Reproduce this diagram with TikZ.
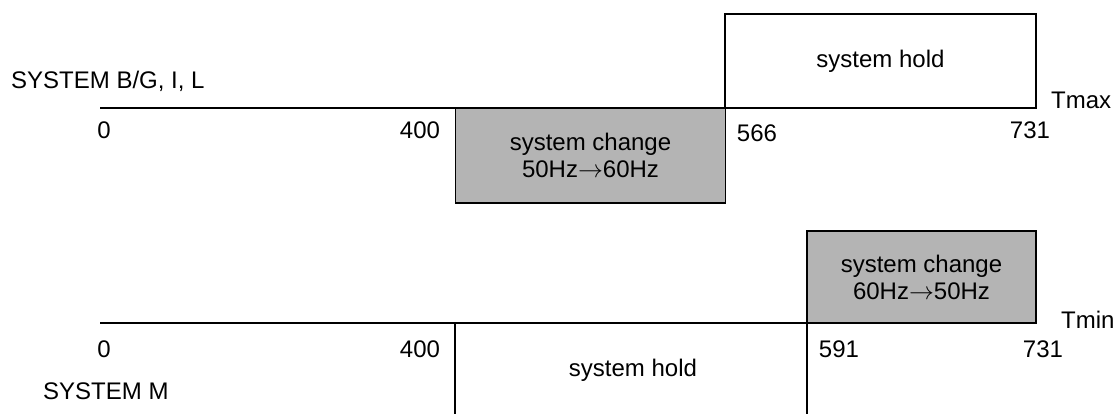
\documentclass[tikz,border=0pt]{standalone}
\usepackage{fontspec}
\setmainfont{Liberation Sans}
\usetikzlibrary{positioning}
\definecolor{chgray}{HTML}{B4B4B4}

\begin{document}
\begin{tikzpicture}[
    x=1pt, y=-1pt,
    every node/.style={font=\fontsize{24}{27}\selectfont, inner sep=0pt},
    axis/.style={line width=2.2pt},
    holdbox/.style={rectangle, draw=black, line width=1.8pt, fill=white, align=center},
    changebox/.style={rectangle, draw=black, line width=1.8pt, fill=chgray, align=center},
    edge/.style={line width=1.4pt},
    tick/.style={anchor=center}
]
\useasboundingbox (0,0) rectangle (1117,414);

% Upper chart: system B/G, I, L
\node[anchor=west] (sysbg) at (11,81) {SYSTEM B/G, I, L};
\coordinate (bgstart) at (100,108);
\coordinate (bgend) at (1036,108);
\node[holdbox, minimum width=311pt, minimum height=94pt] (bghold) at (880.5,61) {system hold};
\node[changebox, minimum width=270pt, minimum height=95pt] (bgchange) at (590.5,155.5) {system change\\50Hz$\rightarrow$60Hz};
\draw[axis] (bgstart) -- (bgend);
\node[anchor=west] (tmax) at (1051,100) {Tmax};

% Upper ticks
\node[tick] (bgzero) at (104,130) {0};
\node[tick] (bgfour) at (420,130) {400};
\node[tick] (bgfivesix) at (757,133) {566};
\node[tick] (bgseven) at (1030,130) {731};

% Lower chart: system M
\coordinate (mstart) at (100,323);
\coordinate (mend) at (1036,323);
\node[changebox, minimum width=229pt, minimum height=92pt] (mchange) at (921.5,277) {system change\\60Hz$\rightarrow$50Hz};
\draw[axis] (mstart) -- (mend);
\node[anchor=west] (tmin) at (1061,320) {Tmin};

% Lower hold window
\coordinate (mholdl) at (455,323);
\coordinate (mholdr) at (807,323);
\coordinate (mholdlb) at (455,414);
\coordinate (mholdrb) at (807,414);
\draw[edge] (mholdl) -- (mholdlb);
\draw[edge] (mholdr) -- (mholdrb);
\node (mhold) at (633,370) {system hold};

% Lower ticks
\node[tick] (mzero) at (104,349) {0};
\node[tick] (mfour) at (420,349) {400};
\node[tick] (mfivenine) at (839,349) {591};
\node[tick] (mseven) at (1043,349) {731};
\node[anchor=west] (sysm) at (43,391) {SYSTEM M};

\end{tikzpicture}
\end{document}
